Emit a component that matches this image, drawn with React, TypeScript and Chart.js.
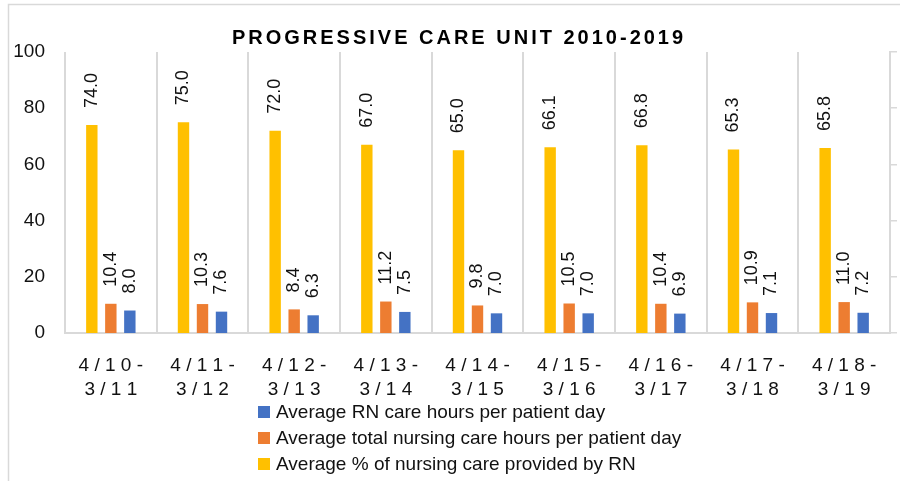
import React, { useEffect, useRef } from 'react';
import { Chart, registerables } from 'chart.js';

Chart.register(...registerables);

const TITLE = 'PROGRESSIVE CARE UNIT 2010-2019';
const periods = ['4/10-3/11', '4/11-3/12', '4/12-3/13', '4/13-3/14', '4/14-3/15', '4/15-3/16', '4/16-3/17', '4/17-3/18', '4/18-3/19'];
const pctNursingByRN = [74.0, 75.0, 72.0, 67.0, 65.0, 66.1, 66.8, 65.3, 65.8];
const totalNursingHours = [10.4, 10.3, 8.4, 11.2, 9.8, 10.5, 10.4, 10.9, 11.0];
const rnCareHours = [8.0, 7.6, 6.3, 7.5, 7.0, 7.0, 6.9, 7.1, 7.2];
const seriesNames = [
  'Average % of nursing care provided by RN',
  'Average total nursing care hours per patient day',
  'Average RN care hours per patient day',
];
const seriesColors = ['#FFC000', '#ED7D31', '#4472C4'];
const yMin = 0;
const yMax = 100;
const yStep = 20;

const FONT = "'Liberation Sans', Arial, sans-serif";
const GRID = '#d9d9d9';
const TEXT = '#111111';

const spaced = (s: string) => s.split('').join(' ');

const borderPlugin = {
  id: 'outerBorder',
  beforeDraw(chart: any) {
    const ctx = chart.ctx;
    ctx.save();
    ctx.fillStyle = '#ffffff';
    ctx.fillRect(0, 0, chart.width, chart.height);
    ctx.strokeStyle = GRID;
    ctx.lineWidth = 1.5;
    ctx.beginPath();
    ctx.moveTo(8.5, chart.height);
    ctx.lineTo(8.5, 4.5);
    ctx.lineTo(chart.width, 4.5);
    ctx.stroke();
    ctx.restore();
  },
};

const titlePlugin = {
  id: 'spacedTitle',
  afterDraw(chart: any) {
    const ctx = chart.ctx;
    ctx.save();
    ctx.font = `bold 20px ${FONT}`;
    try { (ctx as any).letterSpacing = '3px'; } catch (e) { /* ignore */ }
    ctx.fillStyle = '#000';
    ctx.textAlign = 'center';
    ctx.textBaseline = 'middle';
    ctx.fillText(TITLE, 459, 38);
    ctx.restore();
  },
};

const valueLabelPlugin = {
  id: 'valueLabels',
  afterDatasetsDraw(chart: any) {
    const ctx = chart.ctx;
    ctx.save();
    ctx.font = `18px ${FONT}`;
    ctx.fillStyle = TEXT;
    ctx.textAlign = 'left';
    ctx.textBaseline = 'middle';
    chart.data.datasets.forEach((ds: any, di: number) => {
      const meta = chart.getDatasetMeta(di);
      meta.data.forEach((el: any, i: number) => {
        const v = ds.data[i];
        ctx.save();
        ctx.translate(el.x, el.y - 17);
        ctx.rotate(-Math.PI / 2);
        ctx.fillText(Number(v).toFixed(1), 0, 0);
        ctx.restore();
      });
    });
    ctx.restore();
  },
};

const legendPlugin = {
  id: 'stackedLegend',
  afterDraw(chart: any) {
    const ctx = chart.ctx;
    ctx.save();
    ctx.font = `19px ${FONT}`;
    ctx.textAlign = 'left';
    ctx.textBaseline = 'middle';
    const order = chart.data.datasets.map((_: any, i: number) => i).reverse();
    order.forEach((di: number, row: number) => {
      const ds = chart.data.datasets[di];
      const cy = 412 + row * 26;
      ctx.fillStyle = ds.backgroundColor;
      ctx.fillRect(258, cy - 6, 12, 12);
      ctx.fillStyle = TEXT;
      ctx.fillText(ds.label, 276, cy + 1);
    });
    ctx.restore();
  },
};

export default function App() {
  const ref = useRef<HTMLCanvasElement | null>(null);

  useEffect(() => {
    if (!ref.current) return;
    const datasets = [pctNursingByRN, totalNursingHours, rnCareHours].map((data, i) => ({
      label: seriesNames[i],
      data,
      backgroundColor: seriesColors[i],
      borderWidth: 0,
      categoryPercentage: 0.622,
      barPercentage: 0.6,
      yAxisID: 'y',
    }));
    const chart = new Chart(ref.current, {
      type: 'bar',
      data: { labels: periods, datasets },
      options: {
        animation: false,
        responsive: false,
        maintainAspectRatio: false,
        layout: { padding: { top: 52, left: 0, right: 3, bottom: 0 } },
        plugins: {
          legend: { display: false },
          title: { display: false },
          tooltip: { enabled: false },
        },
        scales: {
          x: {
            offset: true,
            grid: { display: true, offset: true, color: GRID, lineWidth: 2, drawTicks: false },
            border: { display: true, color: GRID, width: 2 },
            ticks: {
              padding: 20,
              color: TEXT,
              font: { family: FONT, size: 19, lineHeight: 1.3 },
              maxRotation: 0,
              autoSkip: false,
              callback: (_v: any, idx: number) => {
                const [a, b] = periods[idx].split('-');
                return [spaced(a + '-'), spaced(b)];
              },
            },
            afterFit: (scale: any) => { scale.height = 148; },
          },
          y: {
            position: 'left',
            min: yMin,
            max: yMax,
            grid: { display: false, drawTicks: false },
            border: { display: false },
            ticks: {
              stepSize: yStep,
              padding: 20,
              color: TEXT,
              font: { family: FONT, size: 19 },
            },
            afterFit: (scale: any) => { scale.width = 65; },
          },
          y2: {
            position: 'right',
            min: yMin,
            max: yMax,
            grid: { drawOnChartArea: false, drawTicks: true, tickLength: 7, color: GRID, lineWidth: 1.5 },
            border: { display: true, color: GRID, width: 2 },
            ticks: { stepSize: yStep, display: false },
          },
        },
      },
      plugins: [borderPlugin, valueLabelPlugin, titlePlugin, legendPlugin],
    } as any);
    return () => chart.destroy();
  }, []);

  return (
    <div style={{ position: 'absolute', left: 0, top: 0, width: 900, height: 481 }}>
      <canvas ref={ref} width={900} height={481} style={{ width: 900, height: 481, display: 'block' }} />
    </div>
  );
}
